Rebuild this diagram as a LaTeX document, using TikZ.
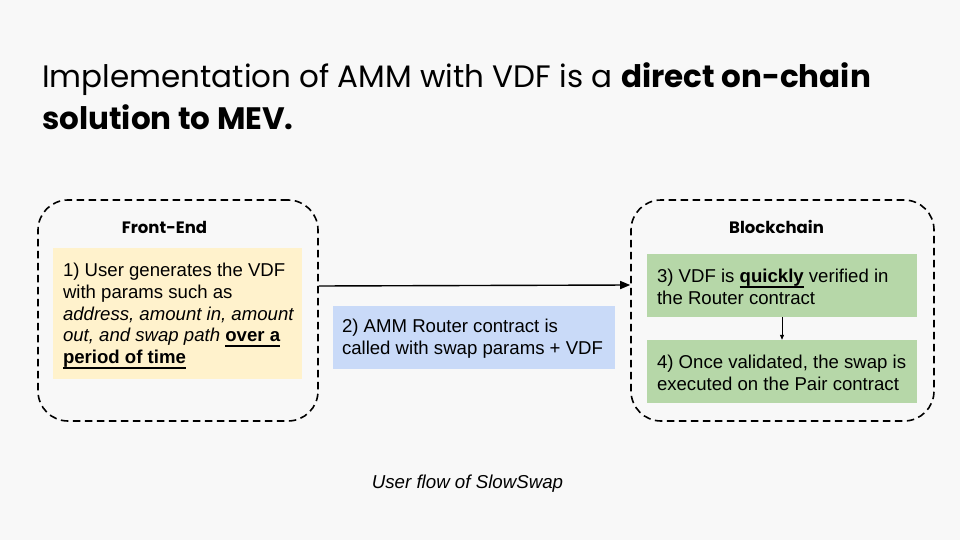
\documentclass[tikz,border=0pt]{standalone}
\usepackage{fontspec}
\setmainfont{Liberation Sans}
\newfontfamily\titlefont{Poppins}
\usetikzlibrary{arrows.meta}
\definecolor{bgc}{HTML}{F8F8F8}
\definecolor{yel}{HTML}{FFF2CC}
\definecolor{blu}{HTML}{C9DAF8}
\definecolor{grn}{HTML}{B6D7A8}
\newsavebox\ulbox
\newcommand\bu[1]{\leavevmode\sbox\ulbox{\bfseries #1}\rlap{\rule[-5.3pt]{\wd\ulbox}{1.7pt}}\usebox\ulbox}
\tikzset{
  frame/.style={draw=black, line width=1.6pt, dash pattern=on 7.5pt off 4.5pt, rounded corners=30pt, inner sep=0pt},
  stepbox/.style={draw=none, inner sep=0pt},
  steptext/.style={anchor=west, inner sep=0pt, align=left, font=\fontsize{18.6}{21.7}\selectfont},
  hdr/.style={font=\titlefont\bfseries\fontsize{16.5}{20}\selectfont, anchor=base},
}
\begin{document}
\begin{tikzpicture}[x=1pt,y=-1pt]
\fill[bgc] (0,0) rectangle (960,540);
\useasboundingbox (0,0) rectangle (960,540);
% title
\node[anchor=base west, inner sep=0pt, font=\titlefont\fontsize{31}{42}\selectfont] (t1) at (42,88) {Implementation of AMM with VDF is a \textbf{direct on-chain}};
\node[anchor=base west, inner sep=0pt, font=\titlefont\fontsize{31}{42}\selectfont] (t2) at (42,130) {\textbf{solution to MEV.}};
% frames
\node[frame, minimum width=280pt, minimum height=221pt] (fe) at (178,310.5) {};
\node[frame, minimum width=303pt, minimum height=221pt] (bc) at (782.5,310.5) {};
\node[hdr] (feh) at (164.5,233) {Front-End};
\node[hdr] (bch) at (776.5,233) {Blockchain};
% boxes
\node[stepbox, fill=yel, minimum width=249pt, minimum height=131pt] (s1) at (177.5,313.5) {};
\node[stepbox, fill=blu, minimum width=282pt, minimum height=63pt] (s2) at (474,337.5) {};
\node[stepbox, fill=grn, minimum width=270pt, minimum height=63pt] (s3) at (782,285.5) {};
\node[stepbox, fill=grn, minimum width=270pt, minimum height=63pt] (s4) at (782,371.5) {};
\node[steptext] (s1t) at ([xshift=10pt,yshift=-2.5pt]s1.west) {1) User generates the VDF\\with params such as\\\textit{address, amount in, amount}\\\textit{out, and swap path} \bu{over a}\\\bu{period of time}};
\node[steptext] (s2t) at ([xshift=9pt,yshift=-1.5pt]s2.west) {2) AMM Router contract is\\called with swap params + VDF};
\node[steptext] (s3t) at ([xshift=10pt,yshift=-1.5pt]s3.west) {3) VDF is \bu{quickly} verified in\\the Router contract};
\node[steptext] (s4t) at ([xshift=10pt,yshift=-1.5pt]s4.west) {4) Once validated, the swap is\\executed on the Pair contract};
% arrows
\draw[line width=1.4pt, -{Triangle[length=10pt,width=8pt]}] ([yshift=24.5pt]fe.east) -- ([yshift=25.5pt]bc.west);
\draw[line width=0.8pt, -{Triangle[length=5pt,width=4pt]}] (s3.south) -- (s4.north);
% caption
\node[anchor=base, inner sep=0pt, font=\itshape\fontsize{18.7}{22}\selectfont] (cap) at (467.5,488) {User flow of SlowSwap};
\end{tikzpicture}
\end{document}
